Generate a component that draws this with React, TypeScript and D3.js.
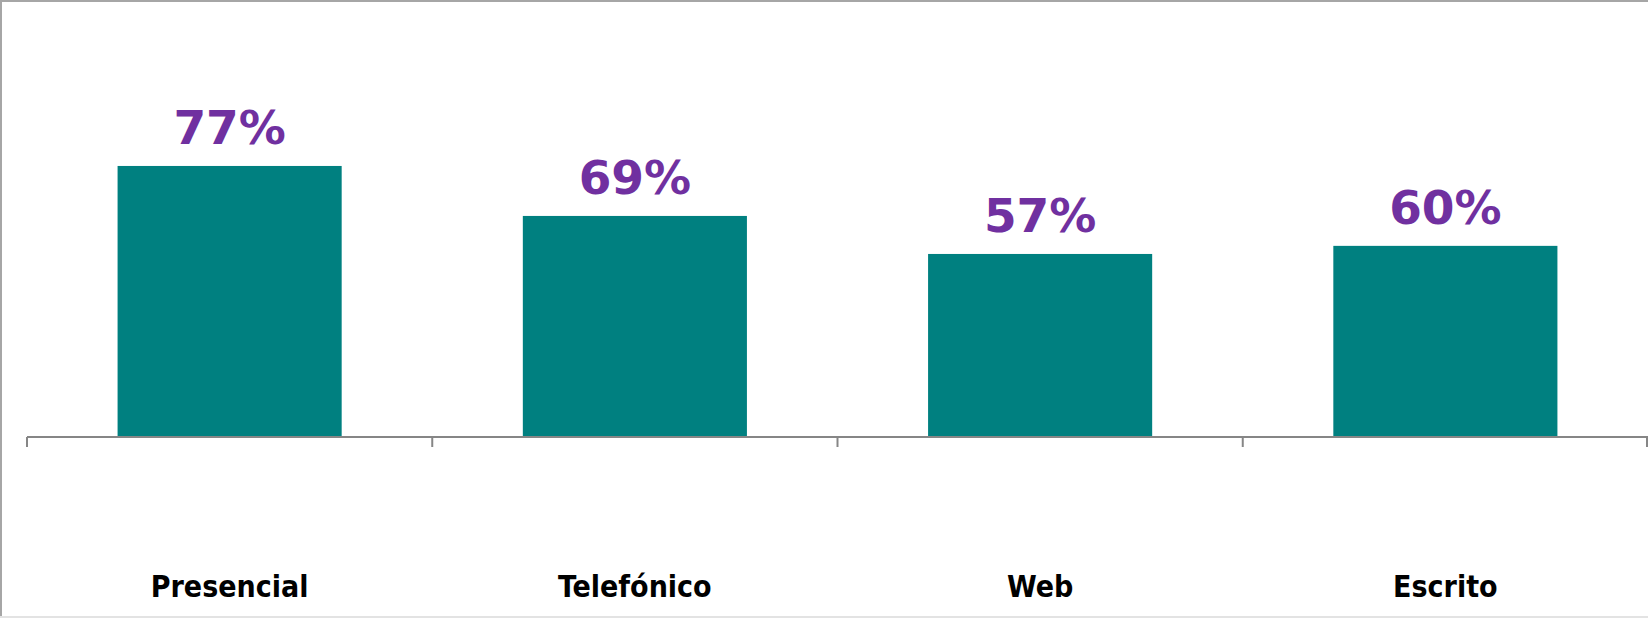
import React from "react";
import * as d3 from "d3";

const categories: string[] = ["Presencial", "Telefónico", "Web", "Escrito"];
// bar heights as drawn in the reference (in % units of the value axis)
const barValues: number[] = [77, 62.8, 52, 54.3];
// data-label texts shown above the bars
const labelTexts: string[] = ["77%", "69%", "57%", "60%"];

const W = 1648;
const H = 618;
const axisY = 437;
const plotTop = 85;
const xLeft = 27;
const xRight = 1648;

export default function App() {
  const x = d3
    .scaleBand<string>()
    .domain(categories)
    .range([xLeft, xRight])
    .paddingInner(0.447)
    .paddingOuter(0.2235);
  const xTicks = d3.scaleBand<string>().domain(categories).range([xLeft, xRight]);
  const y = d3.scaleLinear().domain([0, 100]).range([axisY, plotTop]);

  const tickXs = [...categories.map((c) => xTicks(c) as number), xRight - 1];

  return (
    <svg
      width={W}
      height={H}
      style={{ position: "absolute", left: 0, top: 0, background: "#fff" }}
    >
      <rect x={0} y={0} width={W} height={H} fill="#ffffff" />
      {/* chart border */}
      <line x1={1} y1={0} x2={1} y2={H} stroke="#a6a6a6" strokeWidth={2} />
      <line x1={0} y1={1} x2={W} y2={1} stroke="#a6a6a6" strokeWidth={2} />
      <line x1={0} y1={H - 1} x2={W} y2={H - 1} stroke="#e3e3e3" strokeWidth={2} />

      {/* bars */}
      {categories.map((c, i) => (
        <rect
          key={c}
          x={x(c)}
          y={y(barValues[i])}
          width={x.bandwidth()}
          height={axisY - y(barValues[i])}
          fill="#008080"
        />
      ))}

      {/* axis */}
      <line x1={xLeft} y1={axisY} x2={xRight} y2={axisY} stroke="#868686" strokeWidth={2} />
      {tickXs.map((tx, i) => (
        <line key={i} x1={tx} y1={axisY} x2={tx} y2={axisY + 10} stroke="#868686" strokeWidth={2} />
      ))}

      {/* data labels */}
      {categories.map((c, i) => (
        <text
          key={"l" + c}
          x={(x(c) as number) + x.bandwidth() / 2}
          y={y(barValues[i]) - 22}
          textAnchor="middle"
          fill="#7030A0"
          fontFamily="'DejaVu Sans', Verdana, sans-serif"
          fontWeight="bold"
          fontSize={47}
        >
          {labelTexts[i]}
        </text>
      ))}

      {/* category labels */}
      {categories.map((c) => (
        <text
          key={"c" + c}
          x={(x(c) as number) + x.bandwidth() / 2}
          y={597}
          textAnchor="middle"
          fill="#000000"
          fontFamily="'DejaVu Sans Condensed', 'DejaVu Sans', sans-serif"
          fontWeight="bold"
          fontSize={30}
        >
          {c}
        </text>
      ))}
    </svg>
  );
}
